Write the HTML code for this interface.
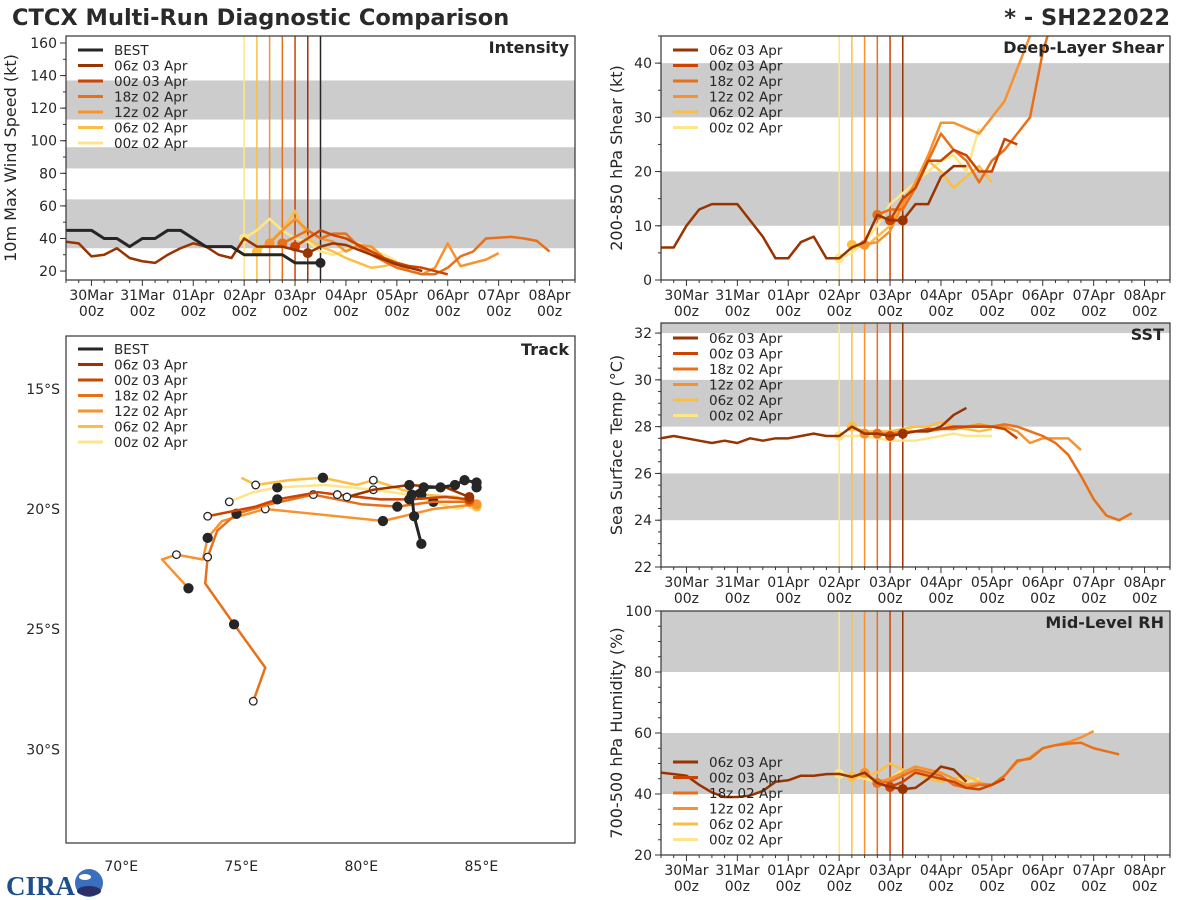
<!DOCTYPE html>
<html><head><meta charset="utf-8">
<style>
html,body{margin:0;padding:0;background:#fff;}
svg{display:block;font-family:"DejaVu Sans","Liberation Sans",sans-serif;}
</style></head>
<body>
<svg id="chart" width="1200" height="900" viewBox="0 0 1200 900" xmlns="http://www.w3.org/2000/svg">
<rect width="1200" height="900" fill="#fff"/>
<text x="12" y="25" font-size="22.5" font-weight="bold" fill="#2a2a2a">CTCX Multi-Run Diagnostic Comparison</text>
<text x="1170" y="25" font-size="22.5" font-weight="bold" fill="#2a2a2a" text-anchor="end">* - SH222022</text>
<g id="logo">
<text x="6" y="895" font-size="27" font-weight="bold" fill="#1d4f8c" font-family="Liberation Serif,serif">CIRA</text>
<circle cx="89" cy="883" r="14" fill="#3a6fc0"/>
<ellipse cx="89" cy="891" rx="12" ry="5" fill="#2a2e6a"/>
<ellipse cx="85" cy="877" rx="6" ry="3" fill="#fff"/>
</g>
</svg>
<script>
// ---------- data ----------
const runNames = ["BEST","06z 03 Apr","00z 03 Apr","18z 02 Apr","12z 02 Apr","06z 02 Apr","00z 02 Apr"];
const runColors = ["#262626","#993300","#cc4400","#e8701a","#f7922e","#fbbf45","#fde68a"];
const initTimes = [4.5,4.25,4.0,3.75,3.5,3.25,3.0];
const dayLabels = ["30Mar","31Mar","01Apr","02Apr","03Apr","04Apr","05Apr","06Apr","07Apr","08Apr"];
// Intensity (kt): start time (days from 30Mar 00z), 6-hourly values
const intStart = [-0.5,-0.5,4.0,3.75,3.5,3.25,3.0];
const intBest = [45,45,45,40,40,35,40,40,45,45,40,35,35,35,30,30,30,30,25,25,25];
const int06z03 = [38,37,29,30,34,28,26,25,30,34,37,35,30,28,40,35,35,35,33,31,35,37,36,33,30,27,24,22,20];
const int00z03 = [35,40,45,42,40,36,32,28,25,23,22,20,18];
const int18z02 = [37,41,45,40,43,43,35,30,26,22,20,18,18,22,29,32,40,40.5,41,40,38.5,32];
const int12z02 = [37,45,52,45,40,38,32,36,35,28,24,20,18,22,37,23,25,27,31];
const int06z02 = [32,38,45,57,40,35,32,28,25,22,23,25,20];
const int00z02 = [40,45,52,45,40,38,32,30,33,37,33,30,26];
// Shear (kt)
const shr06z03 = [6,6,10,13,14,14,14,11,8,4,4,7,8,4,4,6,7,12,11,11,14,14,19,21,21];
const shr00z03 = [11,15,17,22,22,24,23,20,20,26,25];
const shr18z02 = [12,13,13,17,22,27,24,22,18,22,24,27,30,42,50];
const shr12z02 = [6.5,7,9,14,18,23,29,29,28,27,30,33,39,45,50];
const shr06z02 = [6.5,6,8,10,15,17,22,20,17,19,21,18];
const shr00z02 = [4,5,7,10,14,16,18,20,22,23,20,28];
// SST (C)
const sst06z03 = [27.5,27.6,27.5,27.4,27.3,27.4,27.3,27.5,27.4,27.5,27.5,27.6,27.7,27.6,27.6,28.0,27.7,27.7,27.6,27.7,27.8,27.8,28.0,28.5,28.8];
const sst00z03 = [27.6,27.7,27.8,27.9,27.9,28.0,28.0,28.0,28.0,27.9,27.5];
const sst18z02 = [27.7,27.7,27.7,27.8,27.8,27.9,27.9,28.0,28.0,28.0,28.1,28.0,27.8,27.6,27.3,26.8,25.9,24.9,24.2,24.0,24.3];
const sst12z02 = [27.7,27.7,27.7,27.8,27.8,27.9,27.9,28.0,28.0,28.1,28.0,28.0,27.8,27.3,27.5,27.5,27.5,27.0];
const sst06z02 = [28.0,27.8,27.8,27.8,27.9,28.0,28.0,28.2,28.0,27.9,27.8,27.9];
const sst00z02 = [27.6,27.6,27.6,27.5,27.4,27.4,27.4,27.5,27.6,27.7,27.6,27.6,27.6];
// Mid-level RH (%)
const rh06z03 = [47,46.5,46,43,40.5,39,39,39.5,41,44,44.5,46,46,46.5,46.6,45.6,47,43.6,42.3,41.6,42,45,49,48,44];
const rh00z03 = [42.3,44,47,46,45,44,42,41.5,43,45];
const rh18z02 = [43.6,44,46,48,47,46,43,42,43,43,46,51,51.5,55,56,56.5,56.8,55,54,53];
const rh12z02 = [46.9,44,45,47,49,48,47,45,43,43.5,43,46,50.5,52,55,56,57,58.5,60.6];
const rh06z02 = [45.6,46,47,50,48,47,45,44,45,46,44,42];
const rh00z02 = [46.6,46,45,44,45,48,47,46,45,45,44,45];
// Track (lon E, lat S)
const trkBest = [[82.5,21.45],[82.2,20.3],[82.1,19.4],[82.6,19.1],[83.3,19.1],[83.9,19.0],[84.3,18.8],[84.8,18.9],[84.8,19.1]];
const trk06z03 = [[84.5,19.5],[83.5,19.1],[82.0,19.0],[80.5,19.2],[79.4,19.5]];
const trk00z03 = [[84.5,19.6],[83.5,19.5],[82.0,19.6],[80.8,19.6],[79.0,19.4],[78.2,19.3],[76.5,19.6],[75.6,19.9],[73.6,20.3]];
const trk18z02 = [[84.5,19.7],[83.0,19.7],[81.5,19.9],[80.0,19.8],[78.0,19.4],[76.2,19.8],[74.8,20.2],[74.0,20.9],[73.6,22.0],[73.5,23.1],[74.7,24.8],[76.0,26.6],[75.5,28.0]];
const trk12z02 = [[84.8,19.8],[83.0,20.0],[80.9,20.5],[78.0,20.2],[76.0,20.0],[74.2,20.5],[73.6,21.2],[73.4,22.1],[72.3,21.9],[71.7,22.1],[72.8,23.3]];
const trk06z02 = [[84.8,19.9],[84.0,19.5],[82.5,19.4],[81.7,19.2],[80.5,18.8],[79.8,19.0],[78.4,18.7],[77.0,18.8],[75.6,19.0],[75.0,18.7]];
const trk00z02 = [[84.6,19.8],[84.0,20.0],[83.0,19.7],[82.0,19.4],[80.5,19.2],[78.5,19.0],[76.5,19.1],[75.5,19.3],[74.5,19.7]];

// ---------- drawing ----------
const NS="http://www.w3.org/2000/svg";
const svg=document.getElementById('chart');
const logo=document.getElementById('logo');
function mk(tag,attrs,parent){const e=document.createElementNS(NS,tag);for(const k in attrs)e.setAttribute(k,attrs[k]);if(parent)parent.appendChild(e);else svg.insertBefore(e,logo);return e;}
const T0=-0.5,T1=9.5;

function legend(g,x0,y0,runs){
  runs.forEach((r,i)=>{const y=y0+i*15.5;
    const lg=mk('g',{},g);
    
    
    mk('line',{x1:x0+12,x2:x0+37,y1:y,y2:y,stroke:runColors[r],'stroke-width':3},lg);
    const t=mk('text',{x:x0+48,y:y+5,'font-size':13.5,fill:'#262626'},lg);t.textContent=runNames[r];});
}

function timePanel(p){
  const xs=t=>p.x0+(t-T0)/(T1-T0)*(p.x1-p.x0);
  const ys=v=>p.y1-(v-p.ymin)/(p.ymax-p.ymin)*(p.y1-p.y0);
  const g=mk('g',{});
  
  
  const cid='clip-'+p.name;
  const cp=mk('clipPath',{id:cid},g);mk('rect',{x:p.x0,y:p.y0,width:p.x1-p.x0,height:p.y1-p.y0},cp);
  p.bands.forEach(b=>{const top=Math.min(b[1],p.ymax);const r=mk('rect',{x:p.x0,y:ys(top),width:p.x1-p.x0,height:ys(b[0])-ys(top),fill:'#cccccc'},g);
    
    });
  p.vlines.forEach(i=>{const x=xs(initTimes[i]);const l=mk('line',{x1:x,x2:x,y1:p.y0,y2:p.y1,stroke:runColors[i],'stroke-width':1.5},g);
    
    });
  const sg=mk('g',{'clip-path':'url(#'+cid+')'},g);
  p.series.forEach(s=>{
    const pts=s.vals.map((v,k)=>[xs(s.start+k*0.25),ys(v)]);
    const pl=mk('polyline',{points:pts.map(q=>q.join(',')).join(' '),fill:'none',stroke:runColors[s.run],'stroke-width':s.run===0?3:2.5,'stroke-linejoin':'round'},sg);
    
    
    const k=Math.round((s.dotT-s.start)/0.25);
    if(k>=0&&k<pts.length){
      const c=mk('circle',{cx:pts[k][0],cy:pts[k][1],r:5,fill:runColors[s.run]},sg);
      
      }
  });
  const fr=mk('rect',{x:p.x0,y:p.y0,width:p.x1-p.x0,height:p.y1-p.y0,fill:'none',stroke:'#333','stroke-width':1.2},g);
  
  
  for(let v=p.yt0;v<=p.ymax+1e-6;v+=p.ystep){const y=ys(v);mk('line',{x1:p.x0-6,x2:p.x0,y1:y,y2:y,stroke:'#333'},g);
    const t=mk('text',{x:p.x0-9,y:y+5,'font-size':14,'text-anchor':'end',fill:'#262626'},g);t.textContent=v;
    
    }
  for(let v=p.yt0-p.yminor*Math.floor((p.yt0-p.ymin)/p.yminor);v<=p.ymax;v+=p.yminor){mk('line',{x1:p.x0-3,x2:p.x0,y1:ys(v),y2:ys(v),stroke:'#333'},g);}
  for(let t=-0.5;t<=9.5+1e-6;t+=0.25){const x=xs(t);const maj=Math.abs(t-Math.round(t))<1e-6;mk('line',{x1:x,x2:x,y1:p.y1,y2:p.y1+(maj?6:3),stroke:'#333'},g);}
  dayLabels.forEach((d,i)=>{const x=xs(i);
    const t1=mk('text',{x:x,y:p.y1+20,'font-size':14,'text-anchor':'middle',fill:'#262626'},g);t1.textContent=d;
    
    
    const t2=mk('text',{x:x,y:p.y1+36,'font-size':14,'text-anchor':'middle',fill:'#262626'},g);t2.textContent='00z';
    
    });
  const yl=mk('text',{x:0,y:0,'font-size':16,'text-anchor':'middle',fill:'#262626',transform:`translate(${p.ylx},${(p.y0+p.y1)/2}) rotate(-90)`},g);
  yl.textContent=p.ylabel;
  
  
  const pt=mk('text',{x:p.x1-6,y:p.y0+17,'font-size':16,'font-weight':'bold','text-anchor':'end',fill:'#262626'},g);
  pt.textContent=p.title;
  
  
  legend(g,p.x0,p.legY,p.legRuns);
}
const fc=[1,2,3,4,5,6];
timePanel({name:'intensity',x0:66,x1:575,y0:36,y1:280,ymin:14.5,ymax:164.3,yt0:20,ystep:20,yminor:10,
  bands:[[34,64],[83,96],[113,137]],vlines:[6,5,4,3,2,1,0],ylabel:'10m Max Wind Speed (kt)',ylx:16,title:'Intensity',legY:50,legRuns:[0,1,2,3,4,5,6],
  series:[{run:6,start:intStart[6],vals:int00z02,dotT:3.0},{run:5,start:intStart[5],vals:int06z02,dotT:3.25},{run:4,start:intStart[4],vals:int12z02,dotT:3.5},
   {run:3,start:intStart[3],vals:int18z02,dotT:3.75},{run:2,start:intStart[2],vals:int00z03,dotT:4.0},{run:1,start:intStart[1],vals:int06z03,dotT:4.25},{run:0,start:intStart[0],vals:intBest,dotT:4.5}]});
timePanel({name:'shear',x0:661,x1:1170,y0:36,y1:280,ymin:0,ymax:45,yt0:0,ystep:10,yminor:5,
  bands:[[10,20],[30,40]],vlines:[6,5,4,3,2,1],ylabel:'200-850 hPa Shear (kt)',ylx:622,title:'Deep-Layer Shear',legY:50,legRuns:fc,
  series:[{run:6,start:3.0,vals:shr00z02,dotT:3.0},{run:5,start:3.25,vals:shr06z02,dotT:3.25},{run:4,start:3.5,vals:shr12z02,dotT:3.5},
   {run:3,start:3.75,vals:shr18z02,dotT:3.75},{run:2,start:4.0,vals:shr00z03,dotT:4.0},{run:1,start:-0.5,vals:shr06z03,dotT:4.25}]});
timePanel({name:'sst',x0:661,x1:1170,y0:323,y1:567,ymin:22,ymax:32.43,yt0:22,ystep:2,yminor:0.5,
  bands:[[24,26],[28,30],[32,33]],vlines:[6,5,4,3,2,1],ylabel:'Sea Surface Temp (°C)',ylx:622,title:'SST',legY:338,legRuns:fc,
  series:[{run:6,start:3.0,vals:sst00z02,dotT:3.0},{run:5,start:3.25,vals:sst06z02,dotT:3.25},{run:4,start:3.5,vals:sst12z02,dotT:3.5},
   {run:3,start:3.75,vals:sst18z02,dotT:3.75},{run:2,start:4.0,vals:sst00z03,dotT:4.0},{run:1,start:-0.5,vals:sst06z03,dotT:4.25}]});
timePanel({name:'rh',x0:661,x1:1170,y0:611,y1:855,ymin:20,ymax:100,yt0:20,ystep:20,yminor:5,
  bands:[[40,60],[80,100]],vlines:[6,5,4,3,2,1],ylabel:'700-500 hPa Humidity (%)',ylx:622,title:'Mid-Level RH',legY:762,legRuns:fc,
  series:[{run:6,start:3.0,vals:rh00z02,dotT:3.0},{run:5,start:3.25,vals:rh06z02,dotT:3.25},{run:4,start:3.5,vals:rh12z02,dotT:3.5},
   {run:3,start:3.75,vals:rh18z02,dotT:3.75},{run:2,start:4.0,vals:rh00z03,dotT:4.0},{run:1,start:-0.5,vals:rh06z03,dotT:4.25}]});

// Track panel
(function(){
  const X0=66,X1=575,Y0=336,Y1=843,LON0=67.7,LON1=88.9,LAT0=12.8,LAT1=33.9;
  const xs=lon=>X0+(lon-LON0)/(LON1-LON0)*(X1-X0);
  const ys=lat=>Y0+(lat-LAT0)/(LAT1-LAT0)*(Y1-Y0);
  const g=mk('g',{});
  
  
  const tracks=[[6,trk00z02],[5,trk06z02],[4,trk12z02],[3,trk18z02],[2,trk00z03],[1,trk06z03],[0,trkBest]];
  tracks.forEach(([r,tr])=>{
    const pts=tr.map(q=>[xs(q[0]),ys(q[1])]);
    const pl=mk('polyline',{points:pts.map(q=>q.join(',')).join(' '),fill:'none',stroke:runColors[r],'stroke-width':r===0?3:2.5,'stroke-linejoin':'round'},g);
    
    
    if(r!==0){const c=mk('circle',{cx:pts[0][0],cy:pts[0][1],r:5,fill:runColors[r]},g);
      
      }
    pts.forEach((q,k)=>{if(k===0&&r!==0)return;if(k%2===0||r===0){const filled=(r===0)||((k/2)%2===1);
      const c=mk('circle',{cx:q[0],cy:q[1],r:filled?4.5:3.8,fill:filled?'#262626':'#fff',stroke:'#262626','stroke-width':1.3},g);
      
      }});
  });
  const fr=mk('rect',{x:X0,y:Y0,width:X1-X0,height:Y1-Y0,fill:'none',stroke:'#333','stroke-width':1.2},g);
  
  
  [15,20,25,30].forEach(l=>{const t=mk('text',{x:X0-6,y:ys(l)+5,'font-size':14,'text-anchor':'end',fill:'#262626'},g);t.textContent=l+'°S';
    
    });
  [70,75,80,85].forEach(l=>{const t=mk('text',{x:xs(l),y:Y1+28,'font-size':14,'text-anchor':'middle',fill:'#262626'},g);t.textContent=l+'°E';
    
    });
  const pt=mk('text',{x:X1-6,y:Y0+19,'font-size':16,'font-weight':'bold','text-anchor':'end',fill:'#262626'},g);pt.textContent='Track';
  
  
  legend(g,X0,349,[0,1,2,3,4,5,6]);
})();
</script>
</body></html>
